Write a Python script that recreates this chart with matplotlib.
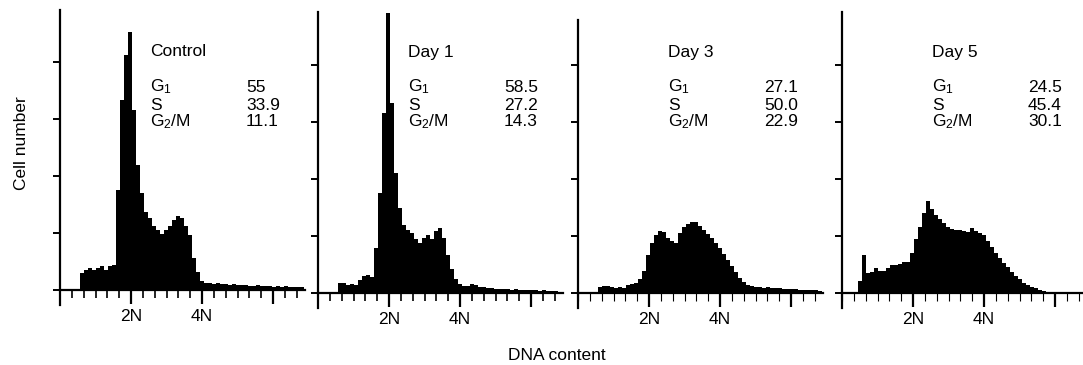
import numpy as np
import matplotlib
matplotlib.use("Agg")
import matplotlib.pyplot as plt

plt.rcParams['font.family'] = ['Liberation Sans', 'DejaVu Sans']
plt.rcParams['mathtext.fontset'] = 'custom'
plt.rcParams['mathtext.rm'] = 'Liberation Sans'

# DNA 히스토그램 (채널 0~244, 4채널 bin, 2N = 71, 4N = 142)
bin_edges = np.arange(0, 248, 4)

control = [0, 0, 0, 0, 0, 17, 20, 22, 20, 22, 24, 20, 24, 25, 100, 190,
           235, 258, 180, 125, 97, 78, 72, 64, 60, 56, 60, 64, 70, 74, 72, 64,
           55, 32, 18, 9, 7, 7, 6, 7, 6, 6, 5, 6, 5, 5, 5, 4,
           4, 5, 4, 4, 4, 3, 4, 3, 4, 3, 3, 3, 3]
day1 = [0, 0, 0, 0, 0, 10, 10, 8, 9, 8, 13, 17, 18, 16, 45, 100,
        180, 280, 190, 120, 85, 68, 63, 60, 54, 50, 55, 58, 54, 62, 65, 55,
        38, 24, 14, 9, 7, 7, 9, 8, 6, 6, 5, 5, 4, 4, 4, 4,
        3, 4, 3, 3, 3, 3, 3, 2, 3, 2, 2, 2, 1]
day3 = [0, 0, 0, 0, 0, 6, 7, 7, 6, 5, 6, 5, 8, 9, 10, 14,
        22, 38, 50, 58, 62, 61, 55, 52, 50, 60, 66, 69, 71, 71, 67, 63,
        59, 55, 50, 45, 39, 33, 27, 21, 15, 11, 8, 7, 6, 6, 5, 6,
        5, 5, 5, 4, 4, 4, 4, 3, 3, 3, 3, 3, 2]
day5 = [0, 0, 0, 0, 12, 38, 20, 21, 25, 22, 22, 25, 28, 28, 29, 31,
        31, 40, 54, 66, 80, 92, 84, 78, 74, 70, 66, 64, 63, 63, 62, 61,
        65, 62, 60, 58, 52, 46, 40, 35, 30, 26, 21, 17, 14, 10, 8, 6,
        5, 3, 2, 1, 0, 0, 0, 0, 0, 0, 0, 0, 0]

titles = ['Control', 'Day 1', 'Day 3', 'Day 5']
g1 = ['55', '58.5', '27.1', '24.5']
s_phase = ['33.9', '27.2', '50.0', '45.4']
g2m = ['11.1', '14.3', '22.9', '30.1']
hists = [control, day1, day3, day5]

W, H = 1083, 365
fig = plt.figure(figsize=(W / 100, H / 100), dpi=100)

# 패널 위치 (픽셀): y축 x위치, 기준선 y위치, 축 윗끝
lefts = [60, 318, 578, 842]
bases = [290, 292.5, 292.5, 292.5]
tops = [10, 12, 20, 12]

for i in range(4):
    base = bases[i]
    ax = fig.add_axes([lefts[i] / W, (H - base - 15) / H, 245 / W, (base + 15 - 10) / H])
    ax.stairs(hists[i], bin_edges, fill=True, color='black', linewidth=0)
    ax.set_xlim(0, 245)
    ax.set_ylim(-15, base - 10)

    for sp in ['top', 'right']:
        ax.spines[sp].set_visible(False)
    ax.spines['bottom'].set_position(('data', 0))
    ax.spines['bottom'].set_bounds(0, 245)
    ax.spines['left'].set_bounds(-15, base - tops[i])
    for sp in ['bottom', 'left']:
        ax.spines[sp].set_linewidth(1.6)

    ax.set_xticks([71, 142, 213], labels=['2N', '4N', ''])
    ax.set_xticks(np.arange(0, 245, 71 / 6), minor=True)
    ax.set_yticks([0, 57, 114, 171, 228], labels=[])
    ax.tick_params(axis='x', which='major', direction='out', length=10, width=1.6,
                   labelsize=12.5, pad=4)
    ax.tick_params(axis='x', which='minor', direction='out', length=5.5,
                   width=1.2 if i < 2 else 0.8)
    ax.tick_params(axis='y', direction='out', length=5, width=1.4)

    tx = 90
    vx = 186
    fs = 12.5
    ax.text(tx, base - 52, titles[i], fontsize=fs, va='center')
    ax.text(tx, base - 87, r'$\mathregular{G_1}$', fontsize=fs, va='center')
    ax.text(tx, base - 105, 'S', fontsize=fs, va='center')
    ax.text(tx, base - 122, r'$\mathregular{G_2}$/M', fontsize=fs, va='center')
    ax.text(vx, base - 87, g1[i], fontsize=fs, va='center')
    ax.text(vx, base - 105, s_phase[i], fontsize=fs, va='center')
    ax.text(vx, base - 122, g2m[i], fontsize=fs, va='center')

fig.text(22 / W, 1 - 143 / H, 'Cell number', rotation=90, fontsize=12.5,
         ha='center', va='center')
fig.text(557 / W, 1 - 355 / H, 'DNA content', fontsize=12.5, ha='center', va='center')

fig.savefig('out.png', dpi=100)
